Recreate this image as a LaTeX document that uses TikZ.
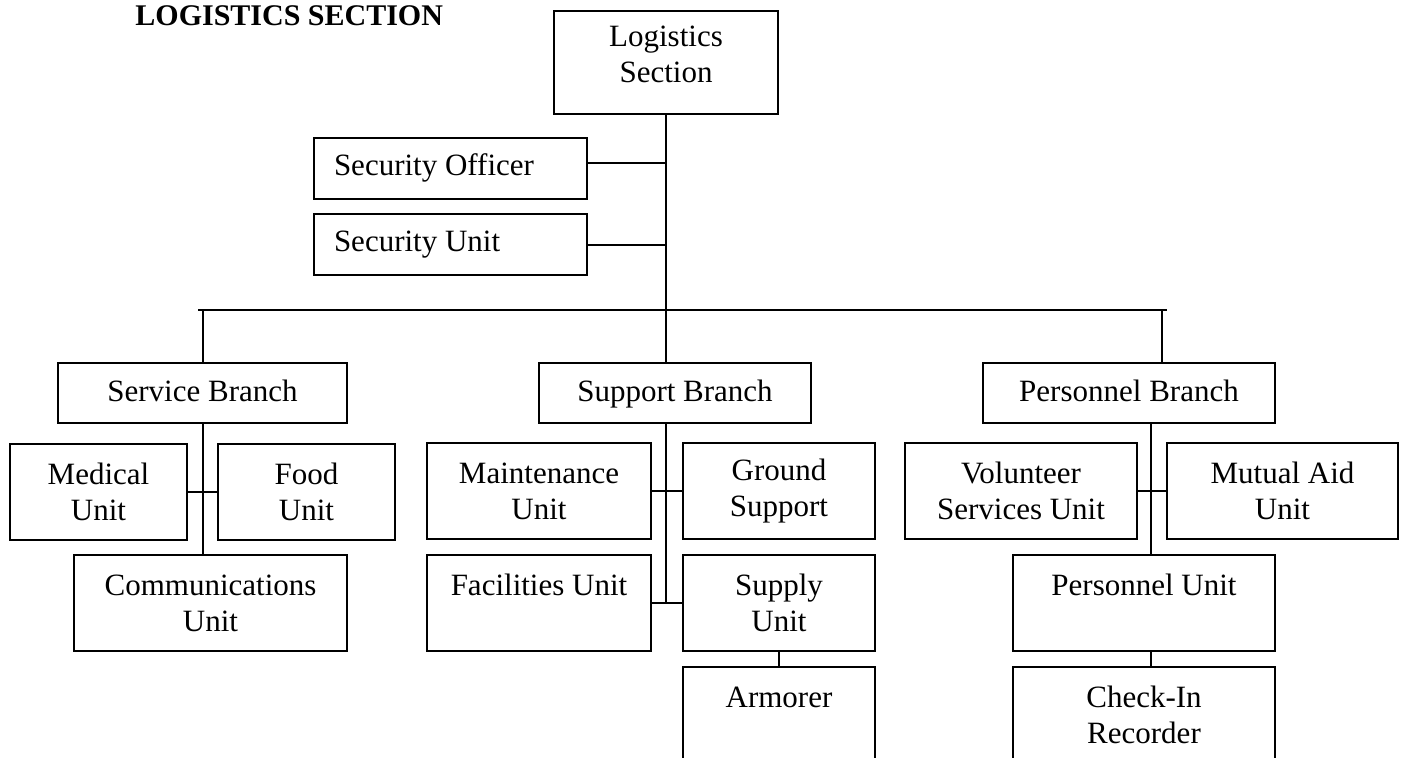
\documentclass[tikz,border=0pt]{standalone}
\usepackage{fontspec}
\setmainfont{Liberation Serif}
\begin{document}
\begin{tikzpicture}[x=0.5pt,y=-0.5pt,
  box/.style={draw,line width=1pt,anchor=north west,inner sep=0pt,align=center,font=\fontsize{15.5}{18}\selectfont},
  unit/.style={box,minimum height=48pt},
  branch/.style={box,minimum height=30pt,text height=12pt,text depth=4pt},
  sec/.style={box,minimum height=30.5pt,minimum width=136.5pt,text height=11pt,text depth=4pt},
  link/.style={line width=1pt},
  bar/.style={line width=1.4pt}
]
\useasboundingbox (0,0) rectangle (1424,757);
\node[anchor=base west,inner sep=0pt,font=\fontsize{15}{18}\selectfont\bfseries] (title) at (135,25) {LOGISTICS SECTION};
\node[box,minimum width=112pt,minimum height=51.5pt,text depth=8pt] (logistics) at (553,10) {Logistics\\Section};
\node[sec] (secofficer) at (313,137) {\makebox[116.5pt][l]{Security Officer}};
\node[sec] (secunit) at (313,213) {\makebox[116.5pt][l]{Security Unit}};
\node[branch,minimum width=144.5pt] (service) at (57,362) {Service Branch};
\node[branch,minimum width=136pt] (support) at (538,362) {Support Branch};
\node[branch,minimum width=146pt] (personnel) at (982,362) {Personnel Branch};
\node[unit,minimum width=88.5pt] (medical) at (9,443) {Medical\\Unit};
\node[unit,minimum width=88.5pt] (food) at (217,443) {Food\\Unit};
\node[unit,minimum width=136.5pt] (comm) at (73,554) {Communications\\Unit};
\node[unit,minimum width=112pt] (maint) at (426,442) {Maintenance\\Unit};
\node[unit,minimum width=96pt] (ground) at (682,442) {Ground\\Support};
\node[unit,minimum width=112pt] (facil) at (426,554) {Facilities Unit\\\mbox{}};
\node[unit,minimum width=96pt] (supply) at (682,554) {Supply\\Unit};
\node[unit,minimum width=96pt] (armorer) at (682,666) {Armorer\\\mbox{}};
\node[unit,minimum width=116pt] (volunteer) at (904,442) {Volunteer\\Services Unit};
\node[unit,minimum width=115.5pt] (mutual) at (1166,442) {Mutual Aid\\Unit};
\node[unit,minimum width=131pt] (punit) at (1012,554) {Personnel Unit\\\mbox{}};
\node[unit,minimum width=131pt] (checkin) at (1012,666) {Check-In\\Recorder};
\coordinate (barL) at (198,310);
\coordinate (barR) at (1167,310);
\coordinate (pdrop) at (1162,310);
\coordinate (pline) at (1151,422);
\draw[bar] (barL) -- (barR);
\draw[link] (logistics.south) -- (logistics.south |- support.north);
\draw[link] ([yshift=3pt]secofficer.east) -- ([yshift=3pt]secofficer.east -| logistics.south);
\draw[link] (secunit.east) -- (secunit.east -| logistics.south);
\draw[link] (service.north |- barL) -- (service.north);
\draw[link] (pdrop) -- (pdrop |- personnel.north);
\draw[link] (service.south) -- (service.south |- comm.north);
\draw[link] (medical.east) -- (food.west);
\draw[link] (logistics.south |- support.south) -- (logistics.south |- facil.east);
\draw[link] (maint.east) -- (ground.west);
\draw[link] (facil.east) -- (supply.west);
\draw[link] (supply.south) -- (armorer.north);
\draw[link] (pline) -- (pline |- punit.north);
\draw[link] (volunteer.east) -- (mutual.west);
\draw[link] (punit.south -| pline) -- (checkin.north -| pline);
\end{tikzpicture}
\end{document}
